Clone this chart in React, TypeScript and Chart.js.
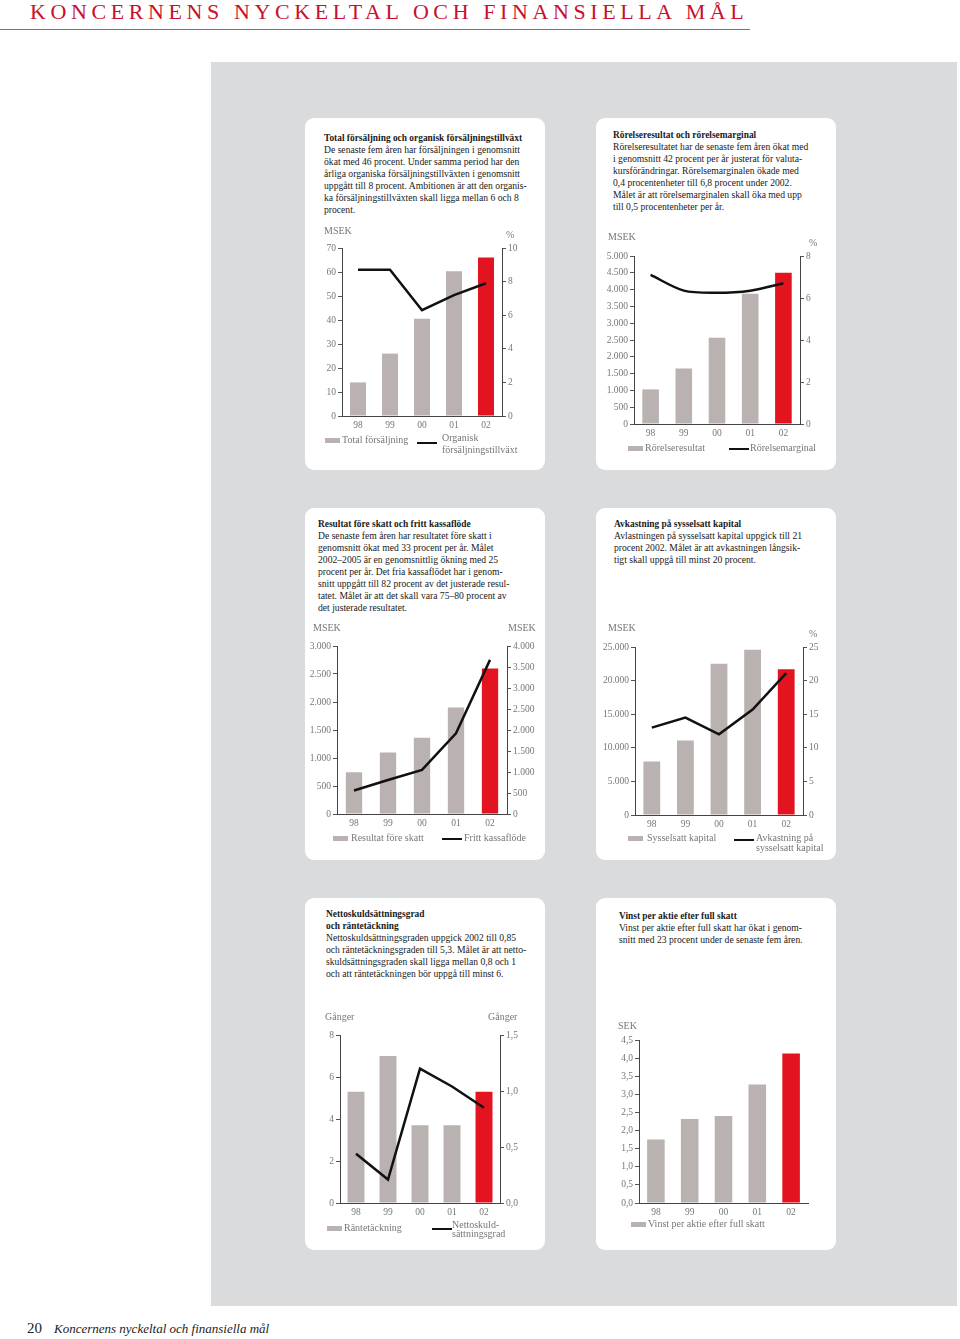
import React, { useEffect, useRef } from 'react';
import { Chart, registerables } from 'chart.js';
Chart.register(...registerables);

// ---------- DATA ----------
const YEARS = ['98', '99', '00', '01', '02'];
const salesMSEK = [14, 26, 40.5, 60.3, 66];
const organicGrowthPct = [8.7, 8.7, 6.3, 7.2, 7.9];
const operatingProfitMSEK = [1030, 1650, 2570, 3880, 4500];
const operatingMarginPct = [7.1, 6.35, 6.25, 6.35, 6.7];
const profitBeforeTaxMSEK = [745, 1100, 1360, 1900, 2600];
const freeCashFlowMSEK = [560, 810, 1050, 1920, 3670];
const capitalEmployedMSEK = [7950, 11100, 22500, 24600, 21700];
const returnOnCapitalPct = [13.0, 14.5, 12.0, 15.7, 21.1];
const interestCoverage = [5.3, 7.0, 3.7, 3.7, 5.3];
const netDebtEquity = [0.44, 0.21, 1.2, 1.04, 0.85];
const epsSEK = [1.75, 2.32, 2.4, 3.27, 4.13];

const GRAY = '#bab2b1';
const RED = '#e3141f';
const SERIF = '"Liberation Serif", "Times New Roman", serif';

const fmtInt = (v: number) => {
  if (v >= 1000) return `${Math.floor(v / 1000)}.${String(v % 1000).padStart(3, '0')}`;
  return String(v);
};
const fmtDec = (v: number) => v.toFixed(1).replace('.', ',');

type Spec = {
  plot: [number, number, number, number];
  bars: number[];
  line?: number[];
  yMax: number;
  yStep: number;
  yFmt: (v: number) => string;
  y1Max?: number;
  y1Step?: number;
  y1Fmt?: (v: number) => string;
  barPct: number;
  tension?: number;
};

const ML = 40, MR = 40, MT = 14, MB = 18, PB = 6;

function BarLineChart({ spec }: { spec: Spec }) {
  const ref = useRef<HTMLCanvasElement | null>(null);
  const [l, t, r, b] = spec.plot;
  const hasRight = !!spec.line;
  const w = r - l + ML + MR;
  const h = b - t + MT + MB + PB;
  useEffect(() => {
    if (!ref.current) return;
    const tickFont = { family: SERIF, size: 9.5 };
    const axisCommon = (fmt: (v: number) => string, max: number, step: number, pos: 'left' | 'right') => ({
      type: 'linear' as const,
      position: pos,
      min: 0,
      max,
      grid: { display: true, drawOnChartArea: false, drawTicks: true, tickLength: 4, color: '#555', lineWidth: 1 },
      border: { display: true, color: '#444', width: 1, dash: [1, 1.5] },
      ticks: { stepSize: step, color: '#777', font: tickFont, padding: 2, callback: (v: any) => fmt(Number(v)) },
      afterFit: (s: any) => { s.width = pos === 'left' ? ML : MR; },
    });
    const datasets: any[] = [];
    if (spec.line) {
      datasets.push({
        type: 'line',
        data: spec.line,
        borderColor: '#111',
        borderWidth: 2.5,
        pointRadius: 0,
        tension: spec.tension ?? 0,
        yAxisID: 'y1',
      });
    }
    datasets.push({
      type: 'bar',
      data: spec.bars,
      backgroundColor: spec.bars.map((_, i) => (i === spec.bars.length - 1 ? RED : GRAY)),
      barPercentage: spec.barPct,
      categoryPercentage: 1,
      yAxisID: 'y',
    });
    const scales: any = {
      x: {
        offset: true,
        grid: { display: false, drawTicks: false, tickLength: 0 },
        border: { display: true, color: '#444', width: 1, dash: [1, 1.5] },
        ticks: { color: '#777', font: tickFont, padding: 4, maxRotation: 0 },
        afterFit: (s: any) => { s.height = MB; },
      },
      y: axisCommon(spec.yFmt, spec.yMax, spec.yStep, 'left'),
    };
    if (spec.line) {
      scales.y1 = axisCommon(spec.y1Fmt!, spec.y1Max!, spec.y1Step!, 'right');
    }
    const chart = new Chart(ref.current, {
      type: 'bar',
      data: { labels: YEARS, datasets },
      options: {
        animation: false,
        responsive: false,
        maintainAspectRatio: false,
        layout: { padding: { top: MT, left: 0, right: hasRight ? 0 : MR, bottom: PB } },
        plugins: { legend: { display: false }, tooltip: { enabled: false } },
        scales,
      },
    } as any);
    return () => chart.destroy();
  }, []);
  return (
    <canvas
      ref={ref}
      width={w}
      height={h}
      style={{ position: 'absolute', left: l - ML, top: t - MT, width: w, height: h }}
    />
  );
}

const Card = ({ x, y }: { x: number; y: number }) => (
  <div style={{ position: 'absolute', left: x, top: y, width: 240, height: 352, background: '#fff', borderRadius: 9 }} />
);

const TextBlock = ({ x, y, bold, lines }: { x: number; y: number; bold: string[]; lines: string[] }) => (
  <div style={{ position: 'absolute', left: x, top: y, fontFamily: SERIF, fontSize: 9.65, lineHeight: '12px', color: '#1a1a1a', whiteSpace: 'nowrap' }}>
    {bold.map((s, i) => (<div key={'b' + i} style={{ fontWeight: 'bold', fontSize: 9.4 }}>{s}</div>))}
    {lines.map((s, i) => (<div key={i}>{s}</div>))}
  </div>
);

const Lbl = ({ x, y, children, size }: { x: number; y: number; children: any; size?: number }) => (
  <div style={{ position: 'absolute', left: x, top: y - 6, fontFamily: SERIF, fontSize: size ?? 10, lineHeight: '12px', color: '#777', whiteSpace: 'nowrap' }}>{children}</div>
);

const LBox = ({ x, y }: { x: number; y: number }) => (
  <div style={{ position: 'absolute', left: x, top: y - 2.5, width: 15, height: 5, background: GRAY }} />
);
const LLine = ({ x, y }: { x: number; y: number }) => (
  <div style={{ position: 'absolute', left: x, top: y - 1.25, width: 20, height: 2.5, background: '#111' }} />
);

export default function App() {
  return (
    <div style={{ position: 'absolute', left: 0, top: 0, width: 960, height: 1339, background: '#fff', overflow: 'hidden' }}>
      <div style={{ position: 'absolute', left: 30, top: 1, fontFamily: SERIF, fontSize: 22, lineHeight: '22px', letterSpacing: '4.6px', color: '#c8102e', whiteSpace: 'nowrap' }}>
        KONCERNENS NYCKELTAL OCH FINANSIELLA MÅL
      </div>
      <div style={{ position: 'absolute', left: 0, top: 29, width: 750, height: 1, background: '#d54a5c' }} />
      <div style={{ position: 'absolute', left: 211, top: 62, width: 746, height: 1244, background: '#dadbdd' }} />

      <Card x={305} y={118} />
      <Card x={596} y={118} />
      <Card x={305} y={508} />
      <Card x={596} y={508} />
      <Card x={305} y={898} />
      <Card x={596} y={898} />

      <TextBlock x={324} y={132} bold={['Total försäljning och organisk försäljningstillväxt']} lines={[
        'De senaste fem åren har försäljningen i genomsnitt',
        'ökat med 46 procent. Under samma period har den',
        'årliga organiska försäljningstillväxten i genomsnitt',
        'uppgått till 8 procent. Ambitionen är att den organis-',
        'ka försäljningstillväxten skall ligga mellan 6 och 8',
        'procent.',
      ]} />
      <TextBlock x={613} y={129} bold={['Rörelseresultat och rörelsemarginal']} lines={[
        'Rörelseresultatet har de senaste fem åren ökat med',
        'i genomsnitt 42 procent per år justerat för valuta-',
        'kursförändringar. Rörelsemarginalen ökade med',
        '0,4 procentenheter till 6,8 procent under 2002.',
        'Målet är att rörelsemarginalen skall öka med upp',
        'till 0,5 procentenheter per år.',
      ]} />
      <TextBlock x={318} y={518} bold={['Resultat före skatt och fritt kassaflöde']} lines={[
        'De senaste fem åren har resultatet före skatt i',
        'genomsnitt ökat med 33 procent per år. Målet',
        '2002–2005 är en genomsnittlig ökning med 25',
        'procent per år. Det fria kassaflödet har i genom-',
        'snitt uppgått till 82 procent av det justerade resul-',
        'tatet. Målet är att det skall vara 75–80 procent av',
        'det justerade resultatet.',
      ]} />
      <TextBlock x={614} y={518} bold={['Avkastning på sysselsatt kapital']} lines={[
        'Avlastningen på sysselsatt kapital uppgick till 21',
        'procent 2002. Målet är att avkastningen långsik-',
        'tigt skall uppgå till minst 20 procent.',
      ]} />
      <TextBlock x={326} y={908} bold={['Nettoskuldsättningsgrad', 'och räntetäckning']} lines={[
        'Nettoskuldsättningsgraden uppgick 2002 till 0,85',
        'och räntetäckningsgraden till 5,3. Målet är att netto-',
        'skuldsättningsgraden skall ligga mellan 0,8 och 1',
        'och att räntetäckningen bör uppgå till minst 6.',
      ]} />
      <TextBlock x={619} y={910} bold={['Vinst per aktie efter full skatt']} lines={[
        'Vinst per aktie efter full skatt har ökat i genom-',
        'snitt med 23 procent under de senaste fem åren.',
      ]} />

      {/* Chart 1 */}
      <BarLineChart spec={{ plot: [342, 248, 502, 416], bars: salesMSEK, line: organicGrowthPct, yMax: 70, yStep: 10, yFmt: fmtInt, y1Max: 10, y1Step: 2, y1Fmt: fmtInt, barPct: 0.5 }} />
      <Lbl x={324} y={231}>MSEK</Lbl>
      <Lbl x={506} y={235}>%</Lbl>
      <LBox x={325} y={440} />
      <Lbl x={342} y={440}>Total försäljning</Lbl>
      <LLine x={417} y={443} />
      <Lbl x={442} y={438}>Organisk</Lbl>
      <Lbl x={442} y={450}>försäljningstillväxt</Lbl>

      {/* Chart 2 */}
      <BarLineChart spec={{ plot: [634, 256, 800, 424], bars: operatingProfitMSEK, line: operatingMarginPct, yMax: 5000, yStep: 500, yFmt: fmtInt, y1Max: 8, y1Step: 2, y1Fmt: fmtInt, barPct: 0.5, tension: 0.3 }} />
      <Lbl x={608} y={237}>MSEK</Lbl>
      <Lbl x={809} y={243}>%</Lbl>
      <LBox x={628} y={448} />
      <Lbl x={645} y={448}>Rörelseresultat</Lbl>
      <LLine x={729} y={449} />
      <Lbl x={750} y={448}>Rörelsemarginal</Lbl>

      {/* Chart 3 */}
      <BarLineChart spec={{ plot: [337, 646, 507, 814], bars: profitBeforeTaxMSEK, line: freeCashFlowMSEK, yMax: 3000, yStep: 500, yFmt: fmtInt, y1Max: 4000, y1Step: 500, y1Fmt: fmtInt, barPct: 0.48 }} />
      <Lbl x={313} y={628}>MSEK</Lbl>
      <Lbl x={508} y={628}>MSEK</Lbl>
      <LBox x={333} y={838} />
      <Lbl x={351} y={838}>Resultat före skatt</Lbl>
      <LLine x={442} y={839} />
      <Lbl x={464} y={838}>Fritt kassaflöde</Lbl>

      {/* Chart 4 */}
      <BarLineChart spec={{ plot: [635, 647, 803, 815], bars: capitalEmployedMSEK, line: returnOnCapitalPct, yMax: 25000, yStep: 5000, yFmt: fmtInt, y1Max: 25, y1Step: 5, y1Fmt: fmtInt, barPct: 0.5 }} />
      <Lbl x={608} y={628}>MSEK</Lbl>
      <Lbl x={809} y={634}>%</Lbl>
      <LBox x={628} y={838} />
      <Lbl x={647} y={838}>Sysselsatt kapital</Lbl>
      <LLine x={734} y={840} />
      <Lbl x={756} y={838}>Avkastning på</Lbl>
      <Lbl x={756} y={848}>sysselsatt kapital</Lbl>

      {/* Chart 5 */}
      <BarLineChart spec={{ plot: [340, 1035, 500, 1203], bars: interestCoverage, line: netDebtEquity, yMax: 8, yStep: 2, yFmt: fmtInt, y1Max: 1.5, y1Step: 0.5, y1Fmt: fmtDec, barPct: 0.53 }} />
      <Lbl x={325} y={1017}>Gånger</Lbl>
      <Lbl x={488} y={1017}>Gånger</Lbl>
      <LBox x={327} y={1228} />
      <Lbl x={344} y={1228}>Räntetäckning</Lbl>
      <LLine x={432} y={1229} />
      <Lbl x={452} y={1225}>Nettoskuld-</Lbl>
      <Lbl x={452} y={1234}>sättningsgrad</Lbl>

      {/* Chart 6 */}
      <BarLineChart spec={{ plot: [639, 1040, 808, 1203], bars: epsSEK, yMax: 4.5, yStep: 0.5, yFmt: fmtDec, barPct: 0.52 }} />
      <Lbl x={618} y={1026}>SEK</Lbl>
      <LBox x={631} y={1224} />
      <Lbl x={648} y={1224}>Vinst per aktie efter full skatt</Lbl>

      <div style={{ position: 'absolute', left: 27, top: 1318, fontFamily: SERIF, fontSize: 15, lineHeight: '20px', color: '#222', whiteSpace: 'nowrap' }}>20</div>
      <div style={{ position: 'absolute', left: 54, top: 1320, fontFamily: SERIF, fontSize: 13, lineHeight: '18px', fontStyle: 'italic', color: '#222', whiteSpace: 'nowrap' }}>Koncernens nyckeltal och finansiella mål</div>
    </div>
  );
}
